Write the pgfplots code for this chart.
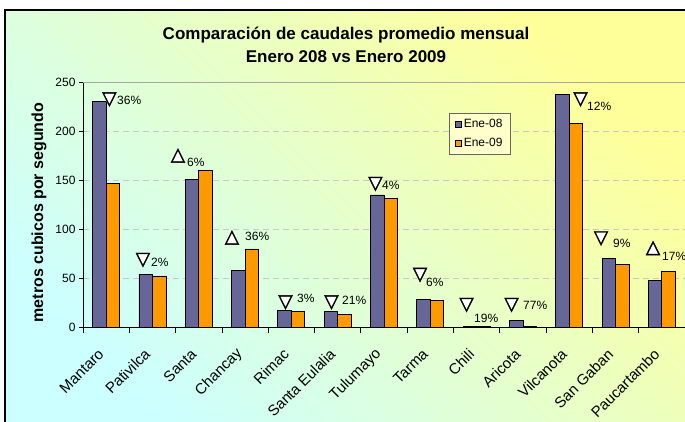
\documentclass[border=0pt]{standalone}
\usepackage{fontspec}
\setmainfont{Liberation Sans}
\newfontfamily\symfont[FakeBold=2]{DejaVu Sans}
\usepackage{pgfplots}
\pgfplotsset{compat=1.18}
\definecolor{barA}{HTML}{666699}
\definecolor{barB}{HTML}{FF9900}
\definecolor{bgY}{HTML}{FFFF99}
\definecolor{bgC}{HTML}{CCFFFF}
\definecolor{legfill}{HTML}{FFFFCC}
\definecolor{gridc}{HTML}{C8C8C8}
\newcommand{\dn}{\rlap{\textcolor{white}{▼}}▽}
\newcommand{\up}{\rlap{\textcolor{white}{▲}}△}
\tikzset{tri/.style={inner sep=0pt, font=\symfont\fontsize{18.5}{19}\selectfont},
  pct/.style={inner sep=0pt, anchor=west, font=\fontsize{12}{14}\selectfont}}
\begin{document}
\begin{tikzpicture}
\path[use as bounding box] (0pt,0pt) rectangle (685pt,421pt);
\fill[white] (0pt,0pt) rectangle (685pt,421pt);
\shade[left color=bgY, right color=bgC, shading angle=-45] (5pt,0pt) rectangle (686pt,411pt);
\draw[black, line width=1.5pt] (5pt,-1pt) -- (5pt,411pt) -- (686pt,411pt);
\node[anchor=base, font=\bfseries\fontsize{17}{20}\selectfont] at (346pt,381pt) {Comparación de caudales promedio mensual};
\node[anchor=base, font=\bfseries\fontsize{17}{20}\selectfont] at (346pt,358pt) {Enero 208 vs Enero 2009};
\node[rotate=90, font=\bfseries\fontsize{16}{18}\selectfont] at (39pt,208.5pt) {metros cubicos por segundo};
\begin{axis}[
  at={(83pt,93.5pt)}, anchor=south west,
  scale only axis, width=602pt, height=245.5pt,
  xmin=-0.5, xmax=12.5, ymin=0, ymax=250,
  ybar=0pt, bar width=13.5pt,
  axis x line*=bottom, axis y line*=left,
  axis line style={black, line width=0.8pt},
  xtick={0,...,12},
  xticklabels={Mantaro,Pativilca,Santa,Chancay,Rimac,Santa Eulalia,Tulumayo,Tarma,Chili,Aricota,Vilcanota,San Gaban,Paucartambo},
  minor xtick={-0.5,0.5,...,12.5},
  major x tick style={draw=none},
  minor x tick style={black, line width=0.8pt},
  y tick style={black, line width=0.8pt},
  ytick={0,50,...,250},
  tick align=outside, major tick length=4pt, minor tick length=5pt,
  ymajorgrids, major grid style={gridc, dash pattern=on 6pt off 4pt, line width=0.8pt},
  yticklabel style={font=\fontsize{12}{14}\selectfont},
  /pgf/number format/assume math mode=true,
  xticklabel style={font=\fontsize{15}{17}\selectfont, xshift=-5pt, yshift=-20pt, rotate=45, anchor=east, inner sep=0pt},
  clip=false,
  legend style={at={(rel axis cs:0.608,0.874)}, anchor=north west, fill=legfill, draw=gray!80!black,
    font=\fontsize{12}{14}\selectfont, inner xsep=6pt, inner ysep=4pt, row sep=5pt, cells={anchor=west}},
  legend image code/.code={\draw[#1, line width=0.6pt] (0pt,-3pt) rectangle (6pt,3pt);},
]
\draw[gray!70, line width=0.8pt] (rel axis cs:0,1) -- (rel axis cs:1,1);
\addplot[fill=barA, draw=black, line width=0.8pt] coordinates {
(0,230) (1,54) (2,151) (3,58) (4,17) (5,16) (6,135) (7,29) (8,1.5) (9,7) (10,237) (11,70) (12,48)};
\addplot[fill=barB, draw=black, line width=0.8pt] coordinates {
(0,147) (1,52.5) (2,160) (3,80) (4,16) (5,13) (6,131) (7,28) (8,1.2) (9,1.5) (10,208) (11,64) (12,57)};
\legend{Ene-08,Ene-09}
\node[tri] at (axis cs:0.07,232.2) {\dn};
\node[tri] at (axis cs:0.795,68.7) {\dn};
\node[tri] at (axis cs:1.551,175.1) {\up};
\node[tri] at (axis cs:2.717,91.6) {\up};
\node[tri] at (axis cs:3.873,25.5) {\dn};
\node[tri] at (axis cs:4.866,25.5) {\dn};
\node[tri] at (axis cs:5.816,146.1) {\dn};
\node[tri] at (axis cs:6.778,53.5) {\dn};
\node[tri] at (axis cs:7.782,22.9) {\dn};
\node[tri] at (axis cs:8.754,22.9) {\dn};
\node[tri] at (axis cs:10.244,232.2) {\dn};
\node[tri] at (axis cs:10.687,90.6) {\dn};
\node[tri] at (axis cs:11.810,80.9) {\up};
\node[pct] at (axis cs:0.235,231.6) {36\%};
\node[pct] at (axis cs:0.968,66.7) {2\%};
\node[pct] at (axis cs:1.745,168.5) {6\%};
\node[pct] at (axis cs:2.998,93.2) {36\%};
\node[pct] at (axis cs:4.121,30.0) {3\%};
\node[pct] at (axis cs:5.093,28.0) {21\%};
\node[pct] at (axis cs:5.957,145.1) {4\%};
\node[pct] at (axis cs:6.907,46.3) {6\%};
\node[pct] at (axis cs:7.944,9.7) {19\%};
\node[pct] at (axis cs:9.002,22.9) {77\%};
\node[pct] at (axis cs:10.384,225.5) {12\%};
\node[pct] at (axis cs:10.946,86.0) {9\%};
\node[pct] at (axis cs:12.004,72.8) {17\%};
\end{axis}
\end{tikzpicture}
\end{document}
